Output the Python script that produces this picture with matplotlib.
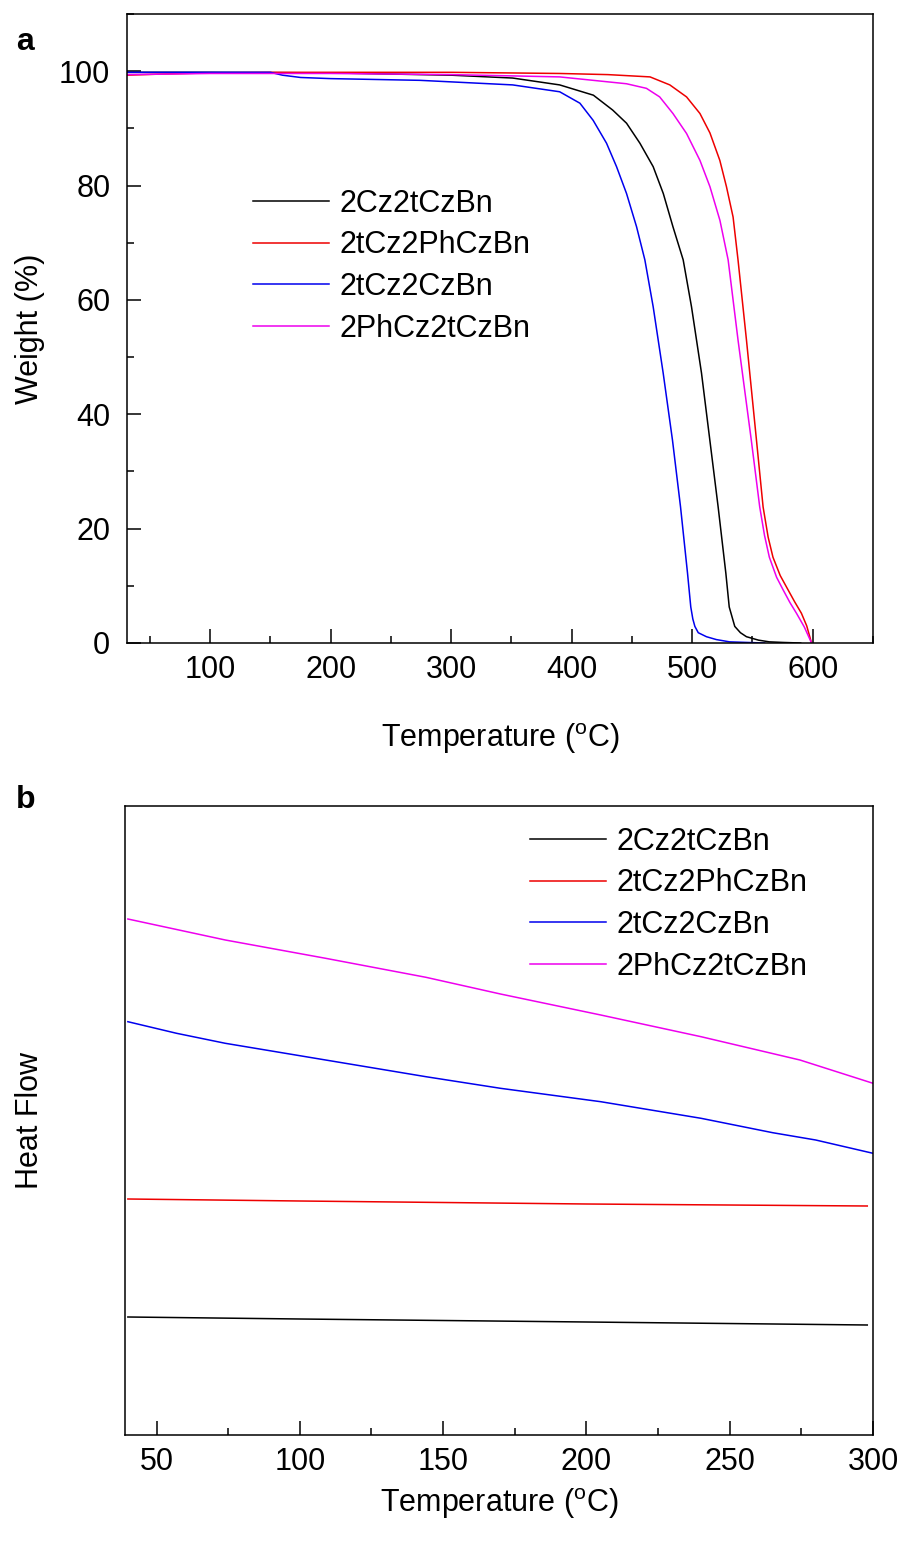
import matplotlib
matplotlib.use("Agg")
import matplotlib.pyplot as plt
from matplotlib.ticker import MultipleLocator, NullLocator

plt.rcParams['font.family'] = ['Liberation Sans', 'DejaVu Sans']
plt.rcParams['mathtext.fontset'] = 'custom'
plt.rcParams['mathtext.rm'] = 'Liberation Sans'

labels = ['2Cz2tCzBn', '2tCz2PhCzBn', '2tCz2CzBn', '2PhCz2tCzBn']
colors = ['#000000', '#ee0000', '#0000ee', '#ee00ee']

# ---- Panel a: TGA (temperature in °C, weight in %) ----
tga_T_black = [31, 100, 200, 300, 351, 390, 418, 434, 445.5, 456.6, 467.6, 476, 484, 492.5,
               499.4, 507.7, 514.6, 521.5, 527.9, 530.7, 535.3, 540, 545, 555, 564, 575, 590]
tga_W_black = [99.8, 99.8, 99.7, 99.3, 98.8, 97.6, 95.8, 93.2, 90.9, 87.4, 83.3, 78.6, 72.8, 67.0,
               58.8, 47.2, 35.5, 23.8, 12.2, 6.3, 2.9, 1.8, 1.1, 0.5, 0.2, 0.1, 0.0]

tga_T_red = [31, 60, 100, 150, 200, 300, 390, 430, 465, 481.4, 495.3, 506.4, 514.7, 522.9,
             528.4, 533.9, 538, 545, 553.3, 558.8, 563, 567, 573, 579.5, 585, 590.6, 595, 599]
tga_W_red = [99.3, 99.5, 99.7, 99.8, 99.8, 99.8, 99.6, 99.4, 99.0, 97.6, 95.5, 92.6, 89.2, 84.4,
             79.8, 74.5, 67.0, 53.0, 35.5, 23.8, 18.5, 15.0, 11.8, 9.3, 7.2, 5.2, 3.0, 0.0]

tga_T_blue = [31, 100, 150, 160, 175, 200, 274, 351, 390, 406.8, 417.8, 428.9, 437.2, 445.5,
              453.8, 460.7, 467.6, 475.9, 483.6, 490.3, 496.1, 498.8, 500.5, 502.2, 505, 511.8, 520, 531, 545, 560]
tga_W_blue = [99.8, 99.8, 99.8, 99.3, 98.9, 98.7, 98.4, 97.6, 96.4, 94.4, 91.4, 87.4, 83.3, 78.6,
              72.8, 67.0, 58.8, 47.2, 35.5, 23.8, 12.2, 6.3, 4.2, 2.9, 1.8, 1.1, 0.6, 0.2, 0.1, 0.0]

tga_T_mag = [31, 100, 200, 300, 390, 445.5, 462, 473, 484, 495.3, 506.4, 514.7, 523, 529.8,
             538, 549, 556, 560, 564, 570, 575.4, 581, 586.5, 593, 599]
tga_W_mag = [99.4, 99.6, 99.6, 99.4, 99.0, 97.8, 97.0, 95.5, 92.6, 89.1, 84.4, 79.8, 73.9, 67.0,
             53.0, 35.5, 23.8, 18.8, 15.0, 11.5, 9.3, 7.1, 5.2, 2.8, 0.0]

tga_T = [tga_T_black, tga_T_red, tga_T_blue, tga_T_mag]
tga_W = [tga_W_black, tga_W_red, tga_W_blue, tga_W_mag]

# ---- Panel b: DSC (arbitrary heat-flow units) ----
dsc_T_black = [40, 100, 200, 298]
dsc_H_black = [11.8, 11.6, 11.3, 11.0]
dsc_T_red = [40, 100, 200, 298]
dsc_H_red = [23.6, 23.4, 23.1, 22.9]
dsc_T_blue = [40, 57, 74, 109, 144, 170, 205, 240, 265, 280, 300]
dsc_H_blue = [41.33, 40.17, 39.17, 37.5, 35.83, 34.67, 33.33, 31.67, 30.23, 29.5, 28.17]
dsc_T_mag = [40, 74, 109, 144, 170, 205, 240, 274.5, 300]
dsc_H_mag = [51.6, 49.5, 47.67, 45.77, 44.1, 42.0, 39.83, 37.5, 35.17]

dsc_T = [dsc_T_black, dsc_T_red, dsc_T_blue, dsc_T_mag]
dsc_H = [dsc_H_black, dsc_H_red, dsc_H_blue, dsc_H_mag]

FS = 22
fig = plt.figure(figsize=(9.03, 15.48), dpi=100)
W, H = 903, 1548
ax1 = fig.add_axes([127 / W, 1 - 643 / H, (873 - 127) / W, (643 - 14) / H])
ax2 = fig.add_axes([125 / W, 1 - 1435 / H, (873 - 125) / W, (1435 - 806) / H])

for T, Wt, c, l in zip(tga_T, tga_W, colors, labels):
    ax1.plot(T, Wt, color=c, lw=1.1, label=l)
ax1.set_xlim(31, 650)
ax1.set_ylim(0, 110)
ax1.xaxis.set_major_locator(MultipleLocator(100))
ax1.xaxis.set_minor_locator(MultipleLocator(50))
ax1.yaxis.set_major_locator(MultipleLocator(20))
ax1.yaxis.set_minor_locator(MultipleLocator(10))
ax1.set_xlabel(r'Temperature ($^{\rm o}$C)', fontsize=FS, labelpad=26)
ax1.set_ylabel('Weight (%)', fontsize=FS)
ax1.yaxis.set_label_coords((45 - 127) / 746, 0.5)
ax1.legend(loc='upper left', bbox_to_anchor=(0.169, 0.722), frameon=False,
           fontsize=FS, handlelength=2.5, labelspacing=0.38, handletextpad=0.33,
           borderpad=0, borderaxespad=0)

for T, Hf, c, l in zip(dsc_T, dsc_H, colors, labels):
    ax2.plot(T, Hf, color=c, lw=1.1, label=l)
ax2.set_xlim(39, 300)
ax2.set_ylim(0, 62.9)
ax2.xaxis.set_major_locator(MultipleLocator(50))
ax2.xaxis.set_minor_locator(MultipleLocator(25))
ax2.yaxis.set_major_locator(NullLocator())
ax2.set_xlabel(r'Temperature ($^{\rm o}$C)', fontsize=FS, labelpad=6)
ax2.set_ylabel('Heat Flow', fontsize=FS)
ax2.yaxis.set_label_coords((45 - 125) / 748, 0.5)
ax2.legend(loc='upper left', bbox_to_anchor=(0.5415, 0.967), frameon=False,
           fontsize=FS, handlelength=2.5, labelspacing=0.38, handletextpad=0.33,
           borderpad=0, borderaxespad=0)

for ax in (ax1, ax2):
    ax.tick_params(axis='both', which='both', direction='in', top=False, right=False,
                   labelsize=FS)
    ax.tick_params(axis='x', which='both', pad=9)
    ax.tick_params(axis='y', which='both', pad=12)
    ax.tick_params(which='major', length=10, width=1.1)
    ax.tick_params(which='minor', length=5, width=1.1)
    for s in ax.spines.values():
        s.set_linewidth(1.1)

fig.text(16 / W, 1 - 42 / H, 'a', fontsize=23, fontweight='bold', va='center', ha='left')
fig.text(16 / W, 1 - 800 / H, 'b', fontsize=23, fontweight='bold', va='center', ha='left')

fig.savefig('out.png', dpi=100)
